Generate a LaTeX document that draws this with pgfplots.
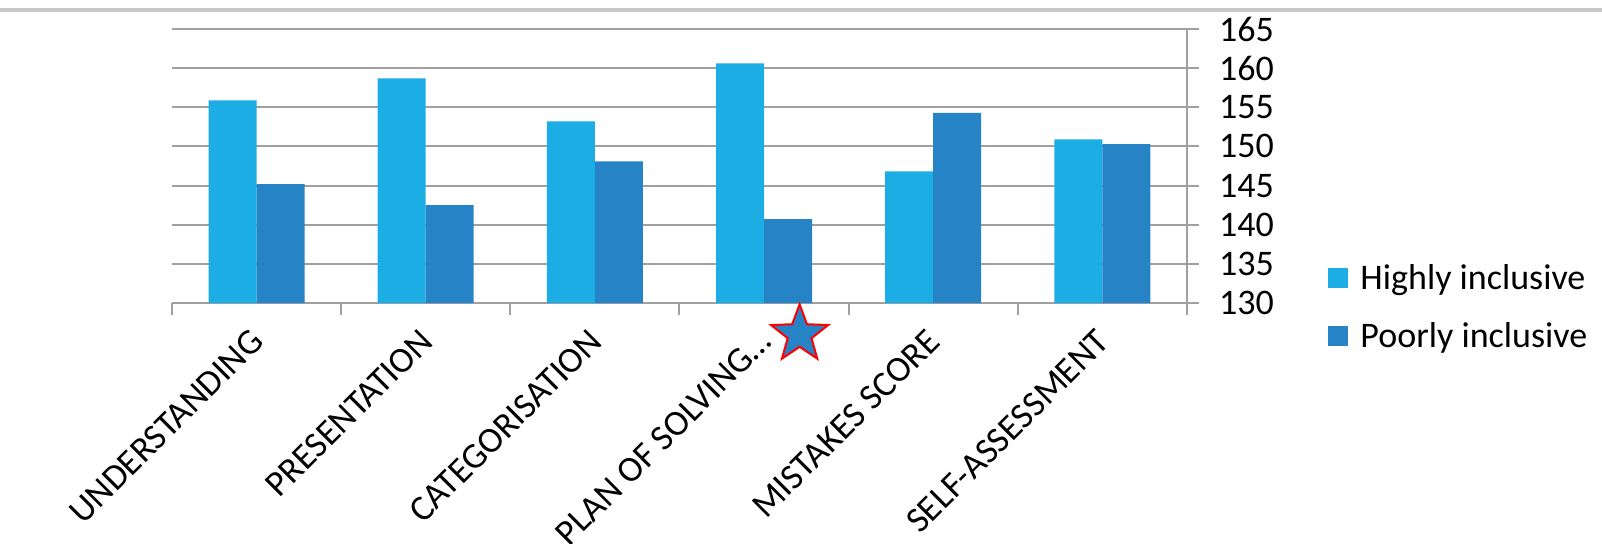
\documentclass[border=0pt]{standalone}
\usepackage{pgfplots}
\pgfplotsset{compat=1.18}
\usepackage{fontspec}
\setmainfont{Carlito}
\usetikzlibrary{shapes.geometric}
\definecolor{hi}{HTML}{1CADE4}
\definecolor{po}{HTML}{2683C6}
\definecolor{gridc}{HTML}{A0A0A0}
\definecolor{topc}{HTML}{C8C8C8}

\begin{document}
\begin{tikzpicture}
\begin{axis}[
 at={(0pt,0pt)}, anchor=south west,
 scale only axis, width=507.5pt, height=137pt,
 ybar=0pt, bar width=24pt,
 xmin=-0.5, xmax=5.5, ymin=130, ymax=165,
 ytick={130,135,...,165},
 axis y line*=right, axis x line*=bottom,
 ymajorgrids, grid style={gridc, line width=1pt},
 axis line style={gridc, line width=1pt, -},
 xtick={0,...,5},
 xticklabels={UNDERSTANDING,PRESENTATION,CATEGORISATION,PLAN OF SOLVING…,MISTAKES SCORE,SELF-ASSESSMENT},
 major x tick style={draw=none},
 minor xtick={-0.5,0.5,...,5.5},
 minor x tick style={gridc, line width=1pt},
 tick align=outside, minor tick length=6pt, major tick length=6pt,
 y tick style={gridc, line width=1pt},
 /pgf/number format/assume math mode=true,
 tick label style={font=\fontsize{18}{20}\selectfont, text=black},
 xticklabel style={rotate=45, anchor=east, xshift=-3.5pt, yshift=-7.5pt},
 yticklabel style={xshift=6.5pt},
 clip=false,
 legend style={at={(1.139,-0.015)}, anchor=west, draw=none, fill=none, inner sep=0pt,
   font=\fontsize{18}{20}\selectfont, row sep=15pt,
   nodes={inner sep=0pt, text=black}},
 legend cell align=left,
 legend image code/.code={\fill[#1] (0pt,-5pt) rectangle (10pt,5pt);},
]
\addplot[fill=hi, draw=none] coordinates {(0,155.9) (1,158.7) (2,153.2) (3,160.6) (4,146.8) (5,150.9)};
\addlegendentry{\hspace{6pt}Highly inclusive}
\addplot[fill=po, draw=none] coordinates {(0,145.2) (1,142.5) (2,148.1) (3,140.7) (4,154.3) (5,150.3)};
\addlegendentry{\hspace{6pt}Poorly inclusive}
\node[star, star points=5, star point ratio=2.4, minimum size=30pt, inner sep=0pt,
  fill=po, draw=red, line width=1pt] at (axis cs:3.21,126.0) {};
\end{axis}
\draw[topc, line width=2pt] (-86pt,146.5pt) -- (715pt,146.5pt);
\pgfresetboundingbox
\path[use as bounding box] (-86pt,-120pt) rectangle (715pt,151.5pt);
\end{tikzpicture}
\end{document}
